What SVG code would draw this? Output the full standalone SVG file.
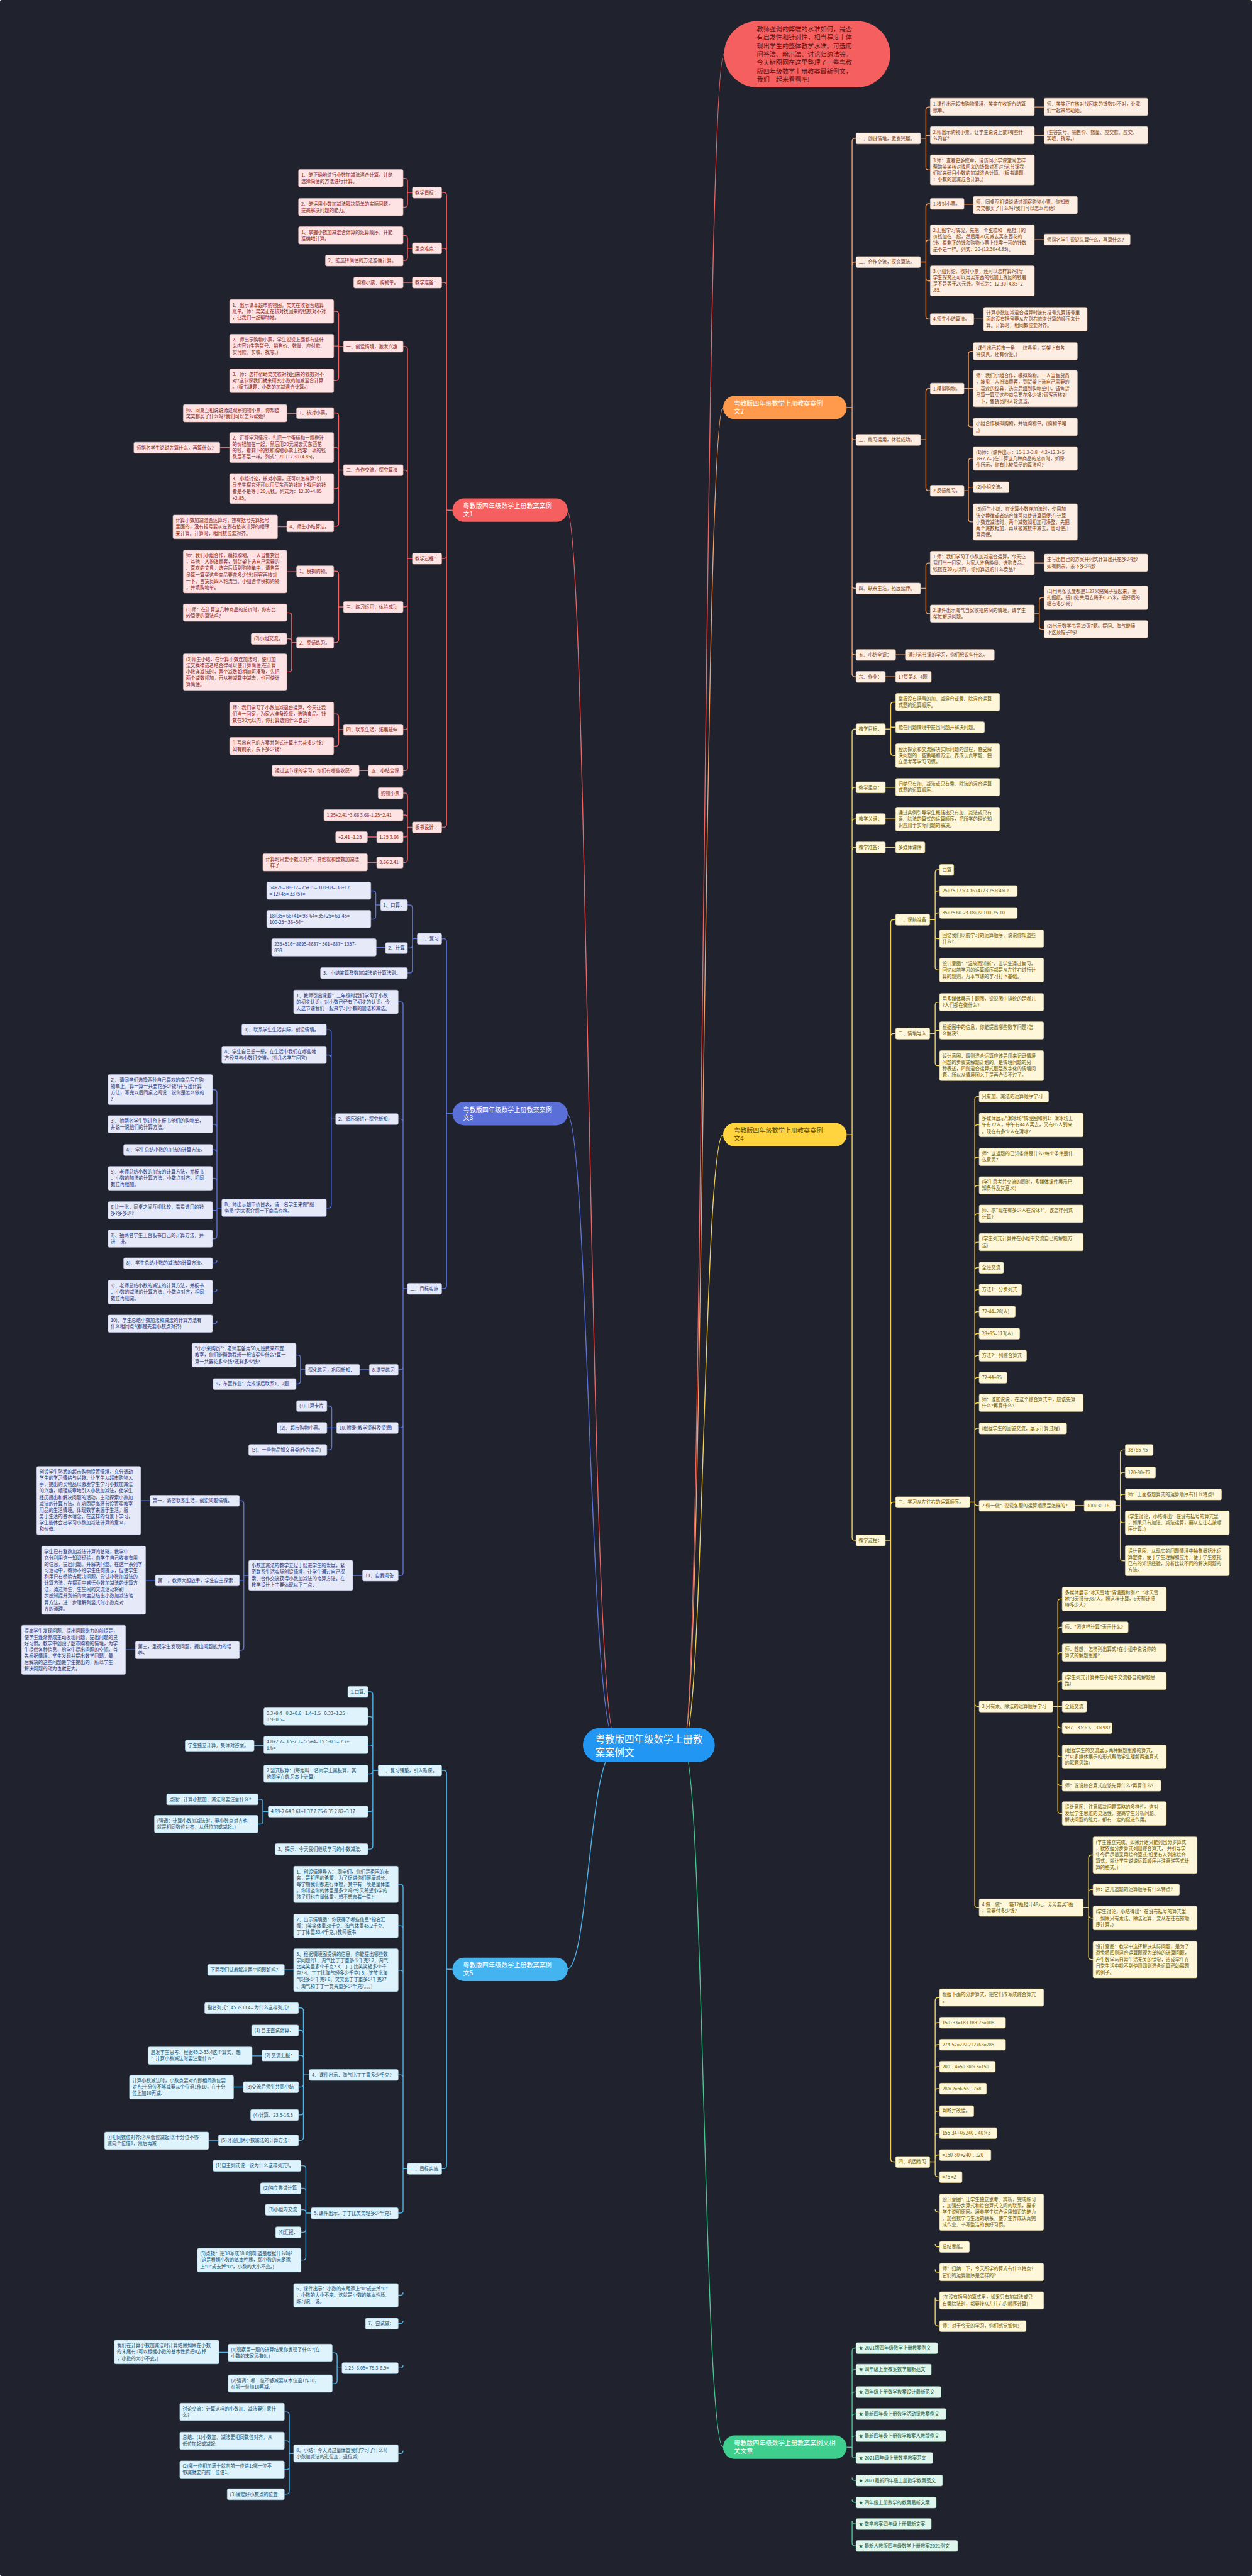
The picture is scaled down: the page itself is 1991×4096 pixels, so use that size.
<svg xmlns="http://www.w3.org/2000/svg" width="1991" height="4096" viewBox="0 0 1991 4096">
<style>
text{font-family:"Noto Sans CJK SC","Noto Sans",sans-serif;font-size:9.6px}
rect{rx:3px}
.o rect{fill:#fdeee3;stroke:#e9c8ae;stroke-width:.8}.o text{fill:#7a3c12}
.y rect{fill:#fff7da;stroke:#e6d99a;stroke-width:.8}.y text{fill:#6a5700}
.g rect{fill:#e0f6ed;stroke:#a9dcc6;stroke-width:.8}.g text{fill:#1b5a40}
.r rect{fill:#fde3e3;stroke:#e9b6b6;stroke-width:.8}.r text{fill:#8a2222}
.b rect{fill:#e6e9f8;stroke:#b9c0e4;stroke-width:.8}.b text{fill:#25357a}
.c rect{fill:#dff3fc;stroke:#a8d6ea;stroke-width:.8}.c text{fill:#16506e}
.lo{stroke:#f0a068}.ly{stroke:#f2d250}.lg{stroke:#44c98f}.lr{stroke:#ee6464}.lb{stroke:#5b74d8}.lc{stroke:#4cb6ea}
#links path{fill:none;stroke-width:1.8}
.bn text{font-size:13px}
</style>
<rect width="1991" height="4096" fill="#20232e"/>
<g transform="scale(0.777)">
<g id="links">
<path class="lr" stroke-width="2.6" d="M1260 3560 C1205 3560 1205 1044 1160 1044"/>
<path class="lb" stroke-width="2.6" d="M1260 3565 C1205 3565 1205 2279 1160 2279"/>
<path class="lc" stroke-width="2.6" d="M1260 3580 C1205 3580 1205 4030 1160 4030"/>
<path class="lr" stroke-width="2.6" d="M1400 3560 C1440 3560 1440 111 1482 111"/>
<path class="lo" stroke-width="2.6" d="M1400 3560 C1440 3560 1440 834 1480 834"/>
<path class="ly" stroke-width="2.6" d="M1400 3565 C1440 3565 1440 2322 1480 2322"/>
<path class="lg" stroke-width="2.6" d="M1400 3580 C1440 3580 1440 5008 1480 5008"/>
<!-- orange -->
<path class="lo" d="M1733 834 H1744 V289 Q1744 283 1750 283 H1752 M1744 834 V542 Q1744 536 1750 536 H1752 M1744 834 V894 Q1744 900 1750 900 H1752 M1744 834 V1198 Q1744 1204 1750 1204 H1752 M1744 834 V1334 Q1744 1340 1750 1340 H1752 M1744 834 V1379 Q1744 1385 1750 1385 H1752"/>
<path class="lo" d="M1884 283 H1895 V225 Q1895 219 1901 219 H1904 M1895 283 V277 H1904 M1895 283 V342 Q1895 348 1901 348 H1904 M2117 219 H2137 M2117 277 H2137"/>
<path class="lo" d="M1884 536 H1895 V423 Q1895 417 1901 417 H1904 M1895 536 V497 Q1895 491 1901 491 H1904 M1895 536 V569 Q1895 575 1901 575 H1904 M1895 536 V647 Q1895 653 1901 653 H1904 M1973 418 H1992 M2117 490.5 H2137 M1993 653 H2013"/>
<path class="lo" d="M1884 900 H1895 V801 Q1895 795 1901 795 H1904 M1895 900 V998 Q1895 1004 1901 1004 H1904 M1973 795 H1982 V725 Q1982 719 1988 719 H1992 M1982 795 H1992 M1982 795 V868 Q1982 874 1988 874 H1992 M1973 1004 H1982 V944 Q1982 938 1988 938 H1992 M1982 1004 V998 Q1982 997 1988 997 H1992 M1982 1004 V1062 Q1982 1068 1988 1068 H1992"/>
<path class="lo" d="M1884 1204 H1895 V1158 Q1895 1152 1901 1152 H1904 M1895 1204 V1250 Q1895 1256 1901 1256 H1904 M2117 1152 H2137 M2117 1256 H2127 V1229 Q2127 1223 2133 1223 H2137 M2127 1256 V1282 Q2127 1288 2133 1288 H2137 M1833 1340 H1853 M1812 1385 H1833"/>
<!-- yellow -->
<path class="ly" d="M1733 2322 H1744 V1498 Q1744 1492 1750 1492 H1752 M1744 2322 V1617 Q1744 1611 1750 1611 H1752 M1744 2322 V1682 Q1744 1676 1750 1676 H1752 M1744 2322 V1740 Q1744 1734 1750 1734 H1752 M1744 2322 V3146 Q1744 3152 1750 3152 H1752"/>
<path class="ly" d="M1812 1492 H1823 V1443 Q1823 1437 1829 1437 H1833 M1823 1492 V1488 H1833 M1823 1492 V1540 Q1823 1546 1829 1546 H1833 M1812 1611 H1833 M1812 1676 H1833 M1812 1734 H1833"/>
<path class="ly" d="M1812 3152 H1823 V1888 Q1823 1882 1829 1882 H1833 M1823 3152 V2121 Q1823 2115 1829 2115 H1833 M1823 3152 V3080 Q1823 3074 1829 3074 H1833 M1823 3152 V4418 Q1823 4424 1829 4424 H1833"/>
<path class="ly" d="M1903 1882 H1914 V1786 Q1914 1780 1920 1780 H1923 M1914 1882 V1829 Q1914 1823 1920 1823 H1923 M1914 1882 V1874 Q1914 1868 1920 1868 H1923 M1914 1882 V1915 Q1914 1921 1920 1921 H1923 M1914 1882 V1979 Q1914 1985 1920 1985 H1923"/>
<path class="ly" d="M1903 2115 H1914 V2057 Q1914 2051 1920 2051 H1923 M1914 2115 V2109 H1923 M1914 2115 V2175 Q1914 2181 1920 2181 H1923"/>
<path class="ly" d="M1985 3074 H1995 V2250 Q1995 2244 2001 2244 H2004 M1995 2308 Q1995 2302 2001 2302 H2004 M1995 2374 Q1995 2368 2001 2368 H2004 M1995 2432 Q1995 2426 2001 2426 H2004 M1995 2490 Q1995 2484 2001 2484 H2004 M1995 2548 Q1995 2542 2001 2542 H2004 M1995 2600 Q1995 2594 2001 2594 H2004 M1995 2645 Q1995 2639 2001 2639 H2004 M1995 2690 Q1995 2684 2001 2684 H2004 M1995 2735 Q1995 2729 2001 2729 H2004 M1995 2780 Q1995 2774 2001 2774 H2004 M1995 2825 Q1995 2819 2001 2819 H2004 M1995 2877 Q1995 2871 2001 2871 H2004 M1995 2929 Q1995 2923 2001 2923 H2004 M1995 3074 V3075 Q1995 3081 2001 3081 H2004 M1995 3074 V3486 Q1995 3492 2001 3492 H2004 M1995 3074 V3898 Q1995 3904 2001 3904 H2004"/>
<path class="ly" d="M2200 3081 H2219 M2283 3081 H2293 V2973 Q2293 2967 2299 2967 H2303 M2293 3019 Q2293 3013 2299 3013 H2303 M2293 3064 Q2293 3058 2299 3058 H2303 M2293 3081 V3110 Q2293 3116 2299 3116 H2303 M2293 3081 V3188 Q2293 3194 2299 3194 H2303"/>
<path class="ly" d="M2155 3492 H2165 V3278 Q2165 3272 2171 3272 H2174 M2165 3336 Q2165 3330 2171 3330 H2174 M2165 3388 Q2165 3382 2171 3382 H2174 M2165 3446 Q2165 3440 2171 3440 H2174 M2165 3492 H2174 M2165 3492 V3530 Q2165 3536 2171 3536 H2174 M2165 3492 V3589 Q2165 3595 2171 3595 H2174 M2165 3492 V3648 Q2165 3654 2171 3654 H2174 M2165 3492 V3705 Q2165 3711 2171 3711 H2174"/>
<path class="ly" d="M2217 3904 H2228 V3802 Q2228 3796 2234 3796 H2237 M2228 3873 Q2228 3867 2234 3867 H2237 M2228 3904 V3919 Q2228 3925 2234 3925 H2237 M2228 3904 V4004 Q2228 4010 2234 4010 H2237"/>
<path class="ly" d="M1903 4424 H1914 V4094 Q1914 4088 1920 4088 H1923 M1914 4145 Q1914 4139 1920 4139 H1923 M1914 4190 Q1914 4184 1920 4184 H1923 M1914 4235 Q1914 4229 1920 4229 H1923 M1914 4280 Q1914 4274 1920 4274 H1923 M1914 4326 Q1914 4320 1920 4320 H1923 M1914 4371 Q1914 4365 1920 4365 H1923 M1914 4416 Q1914 4410 1920 4410 H1923 M1914 4424 V4449 Q1914 4455 1920 4455 H1923 M1914 4521 Q1914 4527 1920 4527 H1923 M1914 4592 Q1914 4598 1920 4598 H1923 M1914 4644 Q1914 4650 1920 4650 H1923 M1914 4702 Q1914 4708 1920 4708 H1923 M1914 4702 V4754 Q1914 4760 1920 4760 H1923"/>
<!-- green -->
<path class="lg" d="M1733 5008 H1744 V4811 Q1744 4805 1750 4805 H1752 M1744 4855 Q1744 4849 1750 4849 H1752 M1744 4901 Q1744 4895 1750 4895 H1752 M1744 4946 Q1744 4940 1750 4940 H1752 M1744 4991 Q1744 4985 1750 4985 H1752 M1744 5008 V5024 Q1744 5030 1750 5030 H1752 M1744 5070 Q1744 5076 1750 5076 H1752 M1744 5115 Q1744 5121 1750 5121 H1752 M1744 5159 Q1744 5165 1750 5165 H1752 M1744 5159 V5204 Q1744 5210 1750 5210 H1752"/>
<!-- red -->
<path class="lr" d="M926 1044 H914 V400 Q914 394 908 394 H904 M914 514 Q914 508 908 508 H904 M914 584 Q914 578 908 578 H904 M914 1044 V1137 Q914 1143 908 1143 H904 M914 1044 V1687 Q914 1693 908 1693 H904"/>
<path class="lr" d="M844 394 H834 V371 Q834 365 828 365 H825 M834 394 V418 Q834 424 828 424 H825 M844 508 H834 V488 Q834 482 828 482 H825 M834 508 V527 Q834 533 828 533 H825 M844 578 H825"/>
<path class="lr" d="M844 1143 H834 V715 Q834 709 828 709 H825 M834 968 Q834 962 828 962 H825 M834 1143 V1236 Q834 1242 828 1242 H825 M834 1143 V1487 Q834 1493 828 1493 H825 M834 1143 V1571 Q834 1577 828 1577 H825"/>
<path class="lr" d="M703 709 H693 V643 Q693 637 687 637 H683 M693 709 V708 H683 M693 709 V773 Q693 779 687 779 H683"/>
<path class="lr" d="M703 962 H693 V851 Q693 845 687 845 H683 M693 962 V922 Q693 916 687 916 H683 M693 962 V994 Q693 1000 687 1000 H683 M693 962 V1071 Q693 1077 687 1077 H683 M607 846 H587 M470 916 H450 M587 1078 H568"/>
<path class="lr" d="M703 1242 H693 V1175 Q693 1169 687 1169 H683 M693 1242 V1309 Q693 1315 687 1315 H683 M607 1170 H587 M607 1315 H597 V1260 Q597 1254 591 1254 H587 M597 1315 V1313 Q597 1307 591 1307 H587 M597 1315 V1369 Q597 1375 591 1375 H587"/>
<path class="lr" d="M703 1493 H693 V1467 Q693 1461 687 1461 H683 M693 1493 V1521 Q693 1527 687 1527 H683 M754 1577 H735"/>
<path class="lr" d="M844 1693 H834 V1629 Q834 1623 828 1623 H825 M834 1674 Q834 1668 828 1668 H825 M834 1693 V1707 Q834 1713 828 1713 H825 M834 1693 V1759 Q834 1765 828 1765 H825 M771 1713 H752 M771 1765 H752"/>
<!-- blue -->
<path class="lb" d="M926 2279 H914 V1927 Q914 1921 908 1921 H904 M914 2279 V2631 Q914 2637 908 2637 H904"/>
<path class="lb" d="M854 1921 H844 V1858 Q844 1852 838 1852 H834 M844 1921 V1934 Q844 1940 838 1940 H834 M844 1921 V1985 Q844 1991 838 1991 H834 M779 1852 H769 V1829 Q769 1823 763 1823 H759 M769 1852 V1875 Q769 1881 763 1881 H759 M789 1939 H770"/>
<path class="lb" d="M834 2637 H825 V2056 Q825 2050 819 2050 H815 M825 2296 Q825 2290 819 2290 H815 M825 2637 V2797 Q825 2803 819 2803 H815 M825 2637 V2916 Q825 2922 819 2922 H815 M825 2637 V3218 Q825 3224 819 3224 H815"/>
<path class="lb" d="M687 2290 H678 V2113 Q678 2107 672 2107 H668 M678 2165 Q678 2159 672 2159 H668 M678 2290 V2466 Q678 2472 672 2472 H668"/>
<path class="lb" d="M454 2472 H444 V2236 Q444 2230 438 2230 H435 M444 2307 Q444 2301 438 2301 H435 M444 2359 Q444 2353 438 2353 H435 M444 2417 Q444 2411 438 2411 H435 M444 2472 V2477 H435 M444 2472 V2529 Q444 2535 438 2535 H435 M444 2579 Q444 2585 438 2585 H435 M444 2638 Q444 2644 438 2644 H435 M444 2703 Q444 2709 438 2709 H435"/>
<path class="lb" d="M756 2803 H736 M625 2803 H615 V2779 Q615 2773 609 2773 H606 M615 2803 V2826 Q615 2832 609 2832 H606 M689 2922 H679 V2883 Q679 2877 673 2877 H669 M679 2922 H669 M679 2922 V2961 Q679 2967 673 2967 H669"/>
<path class="lb" d="M742 3224 H722 M509 3224 H499 V3077 Q499 3071 493 3071 H490 M499 3224 V3234 H490 M499 3224 V3371 Q499 3377 493 3377 H490 M307 3071 H288 M318 3234 H298 M277 3376 H257"/>
<!-- light blue -->
<path class="lc" d="M926 4030 H914 V3629 Q914 3623 908 3623 H904 M914 4030 V4432 Q914 4438 908 4438 H904"/>
<path class="lc" d="M774 3623 H763 V3468 Q763 3462 757 3462 H753 M763 3519 Q763 3513 757 3513 H753 M763 3577 Q763 3571 757 3571 H753 M763 3623 V3624 Q763 3630 757 3630 H753 M763 3623 V3701 Q763 3707 757 3707 H753 M763 3623 V3778 Q763 3784 757 3784 H753 M540 3572 H520 M549 3707 H538 V3688 Q538 3682 532 3682 H528 M538 3707 V3727 Q538 3733 532 3733 H528"/>
<path class="lc" d="M834 4438 H825 V3862 Q825 3856 819 3856 H815 M825 3947 Q825 3941 819 3941 H815 M825 4038 Q825 4032 819 4032 H815 M825 4252 Q825 4246 819 4246 H815 M825 4438 V4523 Q825 4529 819 4529 H815 M825 4691 Q825 4697 819 4697 H815 M825 4749 Q825 4755 819 4755 H815 M825 4840 Q825 4846 819 4846 H815 M825 5015 Q825 5021 819 5021 H815"/>
<path class="lc" d="M601 4031 H582 M633 4246 H621 V4115 Q621 4109 615 4109 H611 M621 4161 Q621 4155 615 4155 H611 M621 4212 Q621 4206 615 4206 H611 M621 4246 V4265 Q621 4271 615 4271 H611 M621 4246 V4322 Q621 4328 615 4328 H611 M621 4246 V4374 Q621 4380 615 4380 H611 M536 4207 H516 M498 4271 H478 M447 4381 H427"/>
<path class="lc" d="M637 4529 H626 V4438 Q626 4432 620 4432 H616 M626 4484 Q626 4478 620 4478 H616 M626 4528 Q626 4522 620 4522 H616 M626 4529 V4562 Q626 4568 620 4568 H616 M626 4529 V4619 Q626 4625 620 4625 H616"/>
<path class="lc" d="M700 4846 H690 V4821 Q690 4815 684 4815 H680 M690 4846 V4872 Q690 4878 684 4878 H680 M467 4814 H448 M601 5021 H592 V4942 Q592 4936 586 4936 H582 M592 5001 Q592 4995 586 4995 H582 M592 5021 V5048 Q592 5054 586 5054 H582 M592 5021 V5098 Q592 5104 586 5104 H582"/>
</g>

<!-- center & branch nodes -->
<g id="center"><rect x="1193" y="3536" width="270" height="70" rx="35" style="rx:35px" fill="#2196f3"/><text x="1218" y="3566" fill="#fff" style="font-size:20px">粤教版四年级数学上册教<tspan x="1218" dy="27">案案例文</tspan></text></g>
<g id="intro"><rect x="1482" y="43" width="340" height="136" style="rx:68px" fill="#f65f5f"/><text fill="#5c1414" style="font-size:13px" x="1549" y="64">教师强调的弊端的水准如何，是否<tspan x="1549" dy="17.3">有启发性和针对性，相当程度上体</tspan><tspan x="1549" dy="17.3">现出学生的整体教学水准。可选用</tspan><tspan x="1549" dy="17.3">问答法、暗示法、讨论归纳法等。</tspan><tspan x="1549" dy="17.3">今天树图网在这里整理了一些粤教</tspan><tspan x="1549" dy="17.3">版四年级数学上册教案最新例文，</tspan><tspan x="1549" dy="17.3">我们一起来看看吧!</tspan></text></g>
<g class="bn">
<g id="br1"><rect x="926" y="1020" width="236" height="48" style="rx:24px" fill="#f65f5f"/><text x="948" y="1040" fill="#fff">粤教版四年级数学上册教案案例<tspan x="948" dy="17">文1</tspan></text></g>
<g id="br3"><rect x="926" y="2255" width="236" height="48" style="rx:24px" fill="#5b6fd9"/><text x="948" y="2275" fill="#fff">粤教版四年级数学上册教案案例<tspan x="948" dy="17">文3</tspan></text></g>
<g id="br5"><rect x="926" y="4006" width="236" height="48" style="rx:24px" fill="#43b4ef"/><text x="948" y="4026" fill="#fff">粤教版四年级数学上册教案案例<tspan x="948" dy="17">文5</tspan></text></g>
<g id="br2"><rect x="1480" y="810" width="253" height="48" style="rx:24px" fill="#ff9a4c"/><text x="1502" y="830" fill="#fff">粤教版四年级数学上册教案案例<tspan x="1502" dy="17">文2</tspan></text></g>
<g id="br4"><rect x="1480" y="2298" width="253" height="48" style="rx:24px" fill="#ffd43f"/><text x="1502" y="2318" fill="#5a4a00">粤教版四年级数学上册教案案例<tspan x="1502" dy="17">文4</tspan></text></g>
<g id="brg"><rect x="1480" y="4984" width="253" height="48" style="rx:24px" fill="#3ecf8e"/><text x="1502" y="5004" fill="#fff">粤教版四年级数学上册教案案例文相<tspan x="1502" dy="17">关文章</tspan></text></g>
</g>

<g class="o">
<g id="o1"><rect x="1752" y="272" width="132" height="22.5"/><text x="1757.5" y="286.6">一、创设情境，激发兴趣。</text></g>
<g id="o2"><rect x="1752" y="525" width="132" height="22.5"/><text x="1757.5" y="539.6">二、合作交流，探究算法。</text></g>
<g id="o3"><rect x="1752" y="889" width="132" height="22.5"/><text x="1757.5" y="903.6">三、练习运用，体验成功。</text></g>
<g id="o4"><rect x="1752" y="1193" width="132" height="22.5"/><text x="1757.5" y="1207.6">四、联系生活，拓展延伸。</text></g>
<g id="o5"><rect x="1752" y="1329" width="81" height="22.5"/><text x="1757.5" y="1343.6">五、小结全课：</text></g>
<g id="o6"><rect x="1752" y="1374" width="60" height="22.5"/><text x="1757.5" y="1388.6">六、作业：</text></g>
<g id="o1a"><rect x="1904" y="201" width="213" height="35.5"/><text x="1909.5" y="215.6">1.课件出示超市购物情境，笑笑在收银台结算<tspan x="1909.5" dy="13">账单。</tspan></text></g>
<g id="o1a1"><rect x="2137" y="201" width="212" height="35.5"/><text x="2142.5" y="215.6">师：笑笑正在核对找回来的钱数对不对，让我<tspan x="2142.5" dy="13">们一起来帮助她。</tspan></text></g>
<g id="o1b"><rect x="1904" y="259" width="213" height="35.5"/><text x="1909.5" y="273.6">2.师出示购物小票，让学生说说上蒙?有些什<tspan x="1909.5" dy="13">么内容?</tspan></text></g>
<g id="o1b1"><rect x="2137" y="259" width="212" height="35.5"/><text x="2142.5" y="273.6">(生答货号、销售价、数量、应交款、应交、<tspan x="2142.5" dy="13">实收、找零。)</tspan></text></g>
<g id="o1c"><rect x="1904" y="317" width="213" height="61.5"/><text x="1909.5" y="331.6">3.师：查看更多纹章，请访问小学课堂网怎样<tspan x="1909.5" dy="13">帮助笑笑核对找回来的钱数对不对?这节课我</tspan><tspan x="1909.5" dy="13">们就来研目小数的加减混合计算。(板书课题</tspan><tspan x="1909.5" dy="13">：小数的加减混合计算。)</tspan></text></g>
<g id="o2a"><rect x="1904" y="406" width="69" height="22.5"/><text x="1909.5" y="420.6">1.核对小票。</text></g>
<g id="o2a1"><rect x="1992" y="402" width="213" height="35.5"/><text x="1997.5" y="416.6">师：同桌互相说说通过观察购物小票，你知道<tspan x="1997.5" dy="13">笑笑都买了什么吗?我们可以怎么帮她?</tspan></text></g>
<g id="o2b"><rect x="1904" y="460" width="213" height="61.5"/><text x="1909.5" y="474.6">2.汇报学习情况，先把一个蛋糕和一瓶橙汁的<tspan x="1909.5" dy="13">价钱加在一起，然后用20元减去买东西花的</tspan><tspan x="1909.5" dy="13">钱，看剩下的钱和购物小票上找零一项的钱数</tspan><tspan x="1909.5" dy="13">是不是一样。列式：20-(12.30+4.85)。</tspan></text></g>
<g id="o2b1"><rect x="2137" y="479" width="176" height="22.5"/><text x="2142.5" y="493.6">师指名学生说说先算什么，再算什么?</text></g>
<g id="o2c"><rect x="1904" y="544" width="213" height="61.5"/><text x="1909.5" y="558.6">3.小组讨论，核对小票，还可以怎样算?引导<tspan x="1909.5" dy="13">学生探究还可以用买东西的钱加上找回的钱看</tspan><tspan x="1909.5" dy="13">是不是等于20元钱。列式为：12.30+4.85+2</tspan><tspan x="1909.5" dy="13">.85。</tspan></text></g>
<g id="o2d"><rect x="1904" y="642" width="89" height="22.5"/><text x="1909.5" y="656.6">4.师生小结算法。</text></g>
<g id="o2d1"><rect x="2013" y="629" width="212" height="48.5"/><text x="2018.5" y="643.6">计算小数加减混合运算时按有括号先算括号里<tspan x="2018.5" dy="13">面的没有括号要从左到右依次计算的顺序来计</tspan><tspan x="2018.5" dy="13">算。计算时，相同数位要对齐。</tspan></text></g>
<g id="o3a"><rect x="1904" y="784" width="69" height="22.5"/><text x="1909.5" y="798.6">1.模拟购物。</text></g>
<g id="o3a1"><rect x="1992" y="701" width="213" height="35.5"/><text x="1997.5" y="715.6">(课件出示超市一角——纹具组，货架上有各<tspan x="1997.5" dy="13">种纹具，还有价签。)</tspan></text></g>
<g id="o3a2"><rect x="1992" y="758" width="213" height="74.5"/><text x="1997.5" y="772.6">师：我们小组合作，模拟购物。一人当售货员<tspan x="1997.5" dy="13">，坡见三人扮演顾客，到货架上选自己需要的</tspan><tspan x="1997.5" dy="13">、喜欢的纹具，选完后填到购物单中，请售货</tspan><tspan x="1997.5" dy="13">员算一算买这些商品要花多少钱?顾客再核对</tspan><tspan x="1997.5" dy="13">一下，售货员四人轮流当。</tspan></text></g>
<g id="o3a3"><rect x="1992" y="856" width="213" height="35.5"/><text x="1997.5" y="870.6">小组合作模拟购物，并填购物单。(购物单略<tspan x="1997.5" dy="13">。)</tspan></text></g>
<g id="o3b"><rect x="1904" y="993" width="69" height="22.5"/><text x="1909.5" y="1007.6">2.反馈练习。</text></g>
<g id="o3b1"><rect x="1992" y="914" width="213" height="48.5"/><text x="1997.5" y="928.6">(1)师：(课件出示：15-1.2-3.8= 4.2+12.3+5<tspan x="1997.5" dy="13">.8+2.7= )在计算这几种商品的总价时，如课</tspan><tspan x="1997.5" dy="13">件所示，你有比较简便的算法吗?</tspan></text></g>
<g id="o3b2"><rect x="1992" y="986" width="73" height="22.5"/><text x="1997.5" y="1000.6">(2)小组交流。</text></g>
<g id="o3b3"><rect x="1992" y="1031" width="213" height="74.5"/><text x="1997.5" y="1045.6">(3)师生小结：在计算小数连加法时，使用加<tspan x="1997.5" dy="13">法交换律或者结合律可以使计算简便;在计算</tspan><tspan x="1997.5" dy="13">小数连减法时，两个减数如相加可凑整，先把</tspan><tspan x="1997.5" dy="13">两个减数相加，再从被减数中减去，也可使计</tspan><tspan x="1997.5" dy="13">算简便。</tspan></text></g>
<g id="o4a"><rect x="1904" y="1128" width="213" height="48.5"/><text x="1909.5" y="1142.6">1.师：我们学习了小数加减混合运算，今天让<tspan x="1909.5" dy="13">我们当一回家，为家人准备晚餐，选购食品。</tspan><tspan x="1909.5" dy="13">钱数在30元以内，你打算选购什么食品?</tspan></text></g>
<g id="o4a1"><rect x="2137" y="1134" width="212" height="35.5"/><text x="2142.5" y="1148.6">生写出自己的方案并列式计算出共花多少钱?<tspan x="2142.5" dy="13">如有剩余，余下多少钱?</tspan></text></g>
<g id="o4b"><rect x="1904" y="1238" width="213" height="35.5"/><text x="1909.5" y="1252.6">2.课件出示淘气当家收拾房间的情境，请学生<tspan x="1909.5" dy="13">帮忙解决问题。</tspan></text></g>
<g id="o4b1"><rect x="2137" y="1199" width="212" height="48.5"/><text x="2142.5" y="1213.6">(1)用两条长度都是1.27米赌绳子接起来，捆<tspan x="2142.5" dy="13">扎报纸。接口处共用去绳子0.25米，接好后的</tspan><tspan x="2142.5" dy="13">绳有多少米?</tspan></text></g>
<g id="o4b2"><rect x="2137" y="1270" width="212" height="35.5"/><text x="2142.5" y="1284.6">(2)出示数学书第19页7题。提问：淘气能摘<tspan x="2142.5" dy="13">下这顶帽子吗?</tspan></text></g>
<g id="o5a"><rect x="1853" y="1329" width="182" height="22.5"/><text x="1858.5" y="1343.6">通过这节课的学习，你们想说些什么。</text></g>
<g id="o6a"><rect x="1833" y="1374" width="73" height="22.5"/><text x="1838.5" y="1388.6">17页第3、4题</text></g>
</g>

<g class="y">
<g id="y1"><rect x="1752" y="1481" width="60" height="22.5"/><text x="1757.5" y="1495.6">教学目标：</text></g>
<g id="y2"><rect x="1752" y="1600" width="60" height="22.5"/><text x="1757.5" y="1614.6">教学重点：</text></g>
<g id="y3"><rect x="1752" y="1665" width="60" height="22.5"/><text x="1757.5" y="1679.6">教学关键：</text></g>
<g id="y4"><rect x="1752" y="1723" width="60" height="22.5"/><text x="1757.5" y="1737.6">教学准备：</text></g>
<g id="y5"><rect x="1752" y="3141" width="60" height="22.5"/><text x="1757.5" y="3155.6">教学过程：</text></g>
<g id="y1a"><rect x="1833" y="1419" width="213" height="35.5"/><text x="1838.5" y="1433.6">掌握没有括号的加、减混合或乘、除混合运算<tspan x="1838.5" dy="13">式题的运算顺序。</tspan></text></g>
<g id="y1b"><rect x="1833" y="1477" width="182" height="22.5"/><text x="1838.5" y="1491.6">能在问题情境中提出问题并解决问题。</text></g>
<g id="y1c"><rect x="1833" y="1522" width="213" height="48.5"/><text x="1838.5" y="1536.6">经历探索和交流解决实际问题的过程，感受解<tspan x="1838.5" dy="13">决问题的一些策略和方法，养成认真审题、独</tspan><tspan x="1838.5" dy="13">立思考等学习习惯。</tspan></text></g>
<g id="y2a"><rect x="1833" y="1593" width="213" height="35.5"/><text x="1838.5" y="1607.6">归纳只有加、减法或只有乘、除法的混合运算<tspan x="1838.5" dy="13">式题的运算顺序。</tspan></text></g>
<g id="y3a"><rect x="1833" y="1652" width="213" height="48.5"/><text x="1838.5" y="1666.6">通过实例引导学生概括出只有加、减法或只有<tspan x="1838.5" dy="13">乘、除法的算式的运算顺序，把所学的理论知</tspan><tspan x="1838.5" dy="13">识应用于实际问题的解决。</tspan></text></g>
<g id="y4a"><rect x="1833" y="1723" width="60" height="22.5"/><text x="1838.5" y="1737.6">多媒体课件</text></g>
<g id="y5a"><rect x="1833" y="1871" width="70" height="22.5"/><text x="1838.5" y="1885.6">一、课前准备</text></g>
<g id="y5b"><rect x="1833" y="2104" width="70" height="22.5"/><text x="1838.5" y="2118.6">二、情境导入</text></g>
<g id="y5c"><rect x="1833" y="3063" width="152" height="22.5"/><text x="1838.5" y="3077.6">三、学习从左往右的运算顺序。</text></g>
<g id="y5d"><rect x="1833" y="4413" width="70" height="22.5"/><text x="1838.5" y="4427.6">四、巩固练习</text></g>
<g id="y5a1"><rect x="1923" y="1769" width="29" height="22.5"/><text x="1928.5" y="1783.6">口算</text></g>
<g id="y5a2"><rect x="1923" y="1812" width="159" height="22.5"/><text x="1928.5" y="1826.6">25+75 12×4 16+4+23 25×4×2</text></g>
<g id="y5a3"><rect x="1923" y="1857" width="159" height="22.5"/><text x="1928.5" y="1871.6">35+25 60-24 18+22 100-25-10</text></g>
<g id="y5a4"><rect x="1923" y="1903" width="213" height="35.5"/><text x="1928.5" y="1917.6">回忆我们以前学习的运算顺序，说说你知道些<tspan x="1928.5" dy="13">什么?</tspan></text></g>
<g id="y5a5"><rect x="1923" y="1961" width="213" height="48.5"/><text x="1928.5" y="1975.6">设计意图："温故而知新"，让学生通过复习，<tspan x="1928.5" dy="13">回忆以前学习的运算顺序都是从左往右进行计</tspan><tspan x="1928.5" dy="13">算的规则，为本节课的学习打下基础。</tspan></text></g>
<g id="y5b1"><rect x="1923" y="2033" width="213" height="35.5"/><text x="1928.5" y="2047.6">用多媒体展示主题图，说说图中描绘的是哪儿<tspan x="1928.5" dy="13">?人们都在做什么?</tspan></text></g>
<g id="y5b2"><rect x="1923" y="2091" width="213" height="35.5"/><text x="1928.5" y="2105.6">根据图中的信息，你能提出哪些数学问题?怎<tspan x="1928.5" dy="13">么解决?</tspan></text></g>
<g id="y5b3"><rect x="1923" y="2150" width="213" height="61.5"/><text x="1928.5" y="2164.6">设计意图：四则混合运算应该是用来记录情境<tspan x="1928.5" dy="13">问题的步骤或解题计划的，是情境问题的另一</tspan><tspan x="1928.5" dy="13">种表述，四则混合运算式题是数字化的情境问</tspan><tspan x="1928.5" dy="13">题，所以从情境图入手是再合适不过了。</tspan></text></g>
<g id="y5c1"><rect x="2004" y="2233" width="142" height="22.5"/><text x="2009.5" y="2247.6">只有加、减法的运算顺序学习</text></g>
<g id="y5c2"><rect x="2004" y="2278" width="213" height="48.5"/><text x="2009.5" y="2292.6">多媒体展示"滑冰场"情境图和例1：滑冰场上<tspan x="2009.5" dy="13">午有72人，中午有44人离去，又有85人到来</tspan><tspan x="2009.5" dy="13">。现在有多少人在滑冰?</tspan></text></g>
<g id="y5c3"><rect x="2004" y="2350" width="213" height="35.5"/><text x="2009.5" y="2364.6">师：这道题的已知条件是什么?每个条件是什<tspan x="2009.5" dy="13">么意思?</tspan></text></g>
<g id="y5c4"><rect x="2004" y="2408" width="213" height="35.5"/><text x="2009.5" y="2422.6">(学生思考并交流的同时，多媒体课件展示已<tspan x="2009.5" dy="13">知条件及其意义)</tspan></text></g>
<g id="y5c5"><rect x="2004" y="2466" width="213" height="35.5"/><text x="2009.5" y="2480.6">师：求"现在有多少人在滑冰?"，该怎样列式<tspan x="2009.5" dy="13">计算?</tspan></text></g>
<g id="y5c6"><rect x="2004" y="2524" width="213" height="35.5"/><text x="2009.5" y="2538.6">(学生列式计算并在小组中交流自己的解题方<tspan x="2009.5" dy="13">法)</tspan></text></g>
<g id="y5c7"><rect x="2004" y="2583" width="50" height="22.5"/><text x="2009.5" y="2597.6">全班交流</text></g>
<g id="y5c8"><rect x="2004" y="2628" width="87" height="22.5"/><text x="2009.5" y="2642.6">方法1：分步列式</text></g>
<g id="y5c9"><rect x="2004" y="2673" width="74" height="22.5"/><text x="2009.5" y="2687.6">72-44=28(人)</text></g>
<g id="y5c10"><rect x="2004" y="2718" width="83" height="22.5"/><text x="2009.5" y="2732.6">28+85=113(人)</text></g>
<g id="y5c11"><rect x="2004" y="2763" width="97" height="22.5"/><text x="2009.5" y="2777.6">方法2：列综合算式</text></g>
<g id="y5c12"><rect x="2004" y="2808" width="57" height="22.5"/><text x="2009.5" y="2822.6">72-44+85</text></g>
<g id="y5c13"><rect x="2004" y="2853" width="213" height="35.5"/><text x="2009.5" y="2867.6">师：谁能说说，在这个综合算式中，应该先算<tspan x="2009.5" dy="13">什么?再算什么?</tspan></text></g>
<g id="y5c14"><rect x="2004" y="2912" width="179" height="22.5"/><text x="2009.5" y="2926.6">(根据学生的回答交流，展示计算过程)</text></g>
<g id="y5c15"><rect x="2004" y="3070" width="196" height="22.5"/><text x="2009.5" y="3084.6">2.做一做：说说各题的运算顺序是怎样的?</text></g>
<g id="y5c15a"><rect x="2219" y="3070" width="64" height="22.5"/><text x="2224.5" y="3084.6">100+30-16</text></g>
<g id="y5c15b"><rect x="2303" y="2956" width="57" height="22.5"/><text x="2308.5" y="2970.6">38+65-45</text></g>
<g id="y5c15c"><rect x="2303" y="3002" width="62" height="22.5"/><text x="2308.5" y="3016.6">120-80+72</text></g>
<g id="y5c15d"><rect x="2303" y="3047" width="197" height="22.5"/><text x="2308.5" y="3061.6">师：上面各题算式的运算顺序有什么特点?</text></g>
<g id="y5c15e"><rect x="2303" y="3092" width="213" height="48.5"/><text x="2308.5" y="3106.6">(学生讨论，小结得出：在没有括号的算式里<tspan x="2308.5" dy="13">，如果只有加法、减法运算，要从左往右按顺</tspan><tspan x="2308.5" dy="13">序计算。)</tspan></text></g>
<g id="y5c15f"><rect x="2303" y="3163" width="213" height="61.5"/><text x="2308.5" y="3177.6">设计意图：从现实的问题情境中抽象概括出运<tspan x="2308.5" dy="13">算定律，便于学生理解和应用，便于学生依托</tspan><tspan x="2308.5" dy="13">已有的知识经验，分析比较不同的解决问题的</tspan><tspan x="2308.5" dy="13">方法。</tspan></text></g>
<g id="y5c16"><rect x="2004" y="3481" width="151" height="22.5"/><text x="2009.5" y="3495.6">3.只有乘、除法的运算顺序学习</text></g>
<g id="y5c16a"><rect x="2174" y="3248" width="213" height="48.5"/><text x="2179.5" y="3262.6">多媒体展示"冰天雪地"情境图和例2："冰天雪<tspan x="2179.5" dy="13">地"3天接待987人。照这样计算，6天预计接</tspan><tspan x="2179.5" dy="13">待多少人?</tspan></text></g>
<g id="y5c16b"><rect x="2174" y="3319" width="135" height="22.5"/><text x="2179.5" y="3333.6">师："照这样计算"表示什么?</text></g>
<g id="y5c16c"><rect x="2174" y="3364" width="213" height="35.5"/><text x="2179.5" y="3378.6">师：想想，怎样列出算式?在小组中说说你的<tspan x="2179.5" dy="13">算式的解题思路?</tspan></text></g>
<g id="y5c16d"><rect x="2174" y="3422" width="213" height="35.5"/><text x="2179.5" y="3436.6">(学生列式计算并在小组中交流各自的解题思<tspan x="2179.5" dy="13">路)</tspan></text></g>
<g id="y5c16e"><rect x="2174" y="3481" width="50" height="22.5"/><text x="2179.5" y="3495.6">全班交流</text></g>
<g id="y5c16f"><rect x="2174" y="3525" width="102" height="22.5"/><text x="2179.5" y="3539.6">987÷3×6 6÷3×987</text></g>
<g id="y5c16g"><rect x="2174" y="3571" width="213" height="48.5"/><text x="2179.5" y="3585.6">(根据学生的交流展示两种解题思路的算式，<tspan x="2179.5" dy="13">并以多媒体展示的形式帮助学生理解两道算式</tspan><tspan x="2179.5" dy="13">的解题思路)</tspan></text></g>
<g id="y5c16h"><rect x="2174" y="3643" width="202" height="22.5"/><text x="2179.5" y="3657.6">师：说说综合算式应该先算什么?再算什么?</text></g>
<g id="y5c16i"><rect x="2174" y="3687" width="213" height="48.5"/><text x="2179.5" y="3701.6">设计意图：注意解决问题策略的多样性。这对<tspan x="2179.5" dy="13">发展学生思维的灵活性，提高学生分析问题、</tspan><tspan x="2179.5" dy="13">解决问题的能力，都有一定的促进作用。</tspan></text></g>
<g id="y5c17"><rect x="2004" y="3886" width="213" height="35.5"/><text x="2009.5" y="3900.6">4.做一做：一箱12瓶橙汁48元，芳芳要买3瓶<tspan x="2009.5" dy="13">，需要付多少钱?</tspan></text></g>
<g id="y5c17a"><rect x="2237" y="3759" width="213" height="74.5"/><text x="2242.5" y="3773.6">(学生独立完成。如果开始只能列出分步算式<tspan x="2242.5" dy="13">，就依据分步算式列出综合算式， 并引导学</tspan><tspan x="2242.5" dy="13">生今后尽量采用综合算式;如果有人列出综合</tspan><tspan x="2242.5" dy="13">算式，就让学生说说运算顺序并注意递等式计</tspan><tspan x="2242.5" dy="13">算的格式。)</tspan></text></g>
<g id="y5c17b"><rect x="2237" y="3856" width="177" height="22.5"/><text x="2242.5" y="3870.6">师：这几道题的运算顺序有什么特点?</text></g>
<g id="y5c17c"><rect x="2237" y="3901" width="213" height="48.5"/><text x="2242.5" y="3915.6">(学生讨论，小结得出：在没有括号的算式里<tspan x="2242.5" dy="13">，如果只有乘法、除法运算，要从左往右按顺</tspan><tspan x="2242.5" dy="13">序计算。)</tspan></text></g>
<g id="y5c17d"><rect x="2237" y="3973" width="213" height="74.5"/><text x="2242.5" y="3987.6">设计意图：教学中选择解决实际问题，是为了<tspan x="2242.5" dy="13">避免将四则混合运算题视为单纯的计算问题，</tspan><tspan x="2242.5" dy="13">产生数学与日常生活无关的错觉，造成学生在</tspan><tspan x="2242.5" dy="13">日常生活中找不到使用四则混合运算帮助解题</tspan><tspan x="2242.5" dy="13">的例子。</tspan></text></g>
<g id="y5d1"><rect x="1923" y="4070" width="213" height="35.5"/><text x="1928.5" y="4084.6">根据下面的分步算式，把它们改写成综合算式<tspan x="1928.5" dy="13">。</tspan></text></g>
<g id="y5d2"><rect x="1923" y="4128" width="135" height="22.5"/><text x="1928.5" y="4142.6">150+33=183 183-75=108</text></g>
<g id="y5d3"><rect x="1923" y="4173" width="135" height="22.5"/><text x="1928.5" y="4187.6">274-52=222 222+63=285</text></g>
<g id="y5d4"><rect x="1923" y="4218" width="114" height="22.5"/><text x="1928.5" y="4232.6">200÷4=50 50×3=150</text></g>
<g id="y5d5"><rect x="1923" y="4263" width="96" height="22.5"/><text x="1928.5" y="4277.6">28×2=56 56÷7=8</text></g>
<g id="y5d6"><rect x="1923" y="4309" width="70" height="22.5"/><text x="1928.5" y="4323.6">判断并改错。</text></g>
<g id="y5d7"><rect x="1923" y="4354" width="117" height="22.5"/><text x="1928.5" y="4368.6">155-34+46 240÷40×3</text></g>
<g id="y5d8"><rect x="1923" y="4399" width="105" height="22.5"/><text x="1928.5" y="4413.6">=150-80 =240÷120</text></g>
<g id="y5d9"><rect x="1923" y="4444" width="46" height="22.5"/><text x="1928.5" y="4458.6">=75 =2</text></g>
<g id="y5d10"><rect x="1923" y="4490" width="213" height="74.5"/><text x="1928.5" y="4504.6">设计意图：让学生独立思考、辨析，完成练习<tspan x="1928.5" dy="13">，加强分步算式和综合算式之间的联系，要求</tspan><tspan x="1928.5" dy="13">学生说明原因。培养学生综合运用知识的能力</tspan><tspan x="1928.5" dy="13">，加强数学与生活的联系，使学生养成认真完</tspan><tspan x="1928.5" dy="13">成作业、书写整洁的良好习惯。</tspan></text></g>
<g id="y5d11"><rect x="1923" y="4587" width="61" height="22.5"/><text x="1928.5" y="4601.6">总结思维。</text></g>
<g id="y5d12"><rect x="1923" y="4632" width="213" height="35.5"/><text x="1928.5" y="4646.6">师：归纳一下，今天所学的算式有什么特点?<tspan x="1928.5" dy="13">它们的运算顺序是怎样的?</tspan></text></g>
<g id="y5d13"><rect x="1923" y="4690" width="213" height="35.5"/><text x="1928.5" y="4704.6">(在没有括号的算式里，如果只有加减法或只<tspan x="1928.5" dy="13">有乘除法时，都要按从左往右的顺序计算)</tspan></text></g>
<g id="y5d14"><rect x="1923" y="4749" width="177" height="22.5"/><text x="1928.5" y="4763.6">师：对于今天的学习，你们感觉如何?</text></g>
</g>

<g class="g">
<g id="g1"><rect x="1752" y="4794" width="167" height="22.5"/><text x="1757.5" y="4808.6">★ 2021版四年级数学上册教案例文</text></g>
<g id="g2"><rect x="1752" y="4838" width="154" height="22.5"/><text x="1757.5" y="4852.6">★ 四年级上册教案数学最新范文</text></g>
<g id="g3"><rect x="1752" y="4884" width="174" height="22.5"/><text x="1757.5" y="4898.6">★ 四年级上册数学教案设计最新范文</text></g>
<g id="g4"><rect x="1752" y="4929" width="184" height="22.5"/><text x="1757.5" y="4943.6">★ 最新四年级上册数学活动课教案例文</text></g>
<g id="g5"><rect x="1752" y="4974" width="184" height="22.5"/><text x="1757.5" y="4988.6">★ 最新四年级上册数学教案人教版例文</text></g>
<g id="g6"><rect x="1752" y="5019" width="157" height="22.5"/><text x="1757.5" y="5033.6">★ 2021四年级上册数学教案范文</text></g>
<g id="g7"><rect x="1752" y="5065" width="177" height="22.5"/><text x="1757.5" y="5079.6">★ 2021最新四年级上册数学教案范文</text></g>
<g id="g8"><rect x="1752" y="5110" width="164" height="22.5"/><text x="1757.5" y="5124.6">★ 四年级上册数学的教案最新文案</text></g>
<g id="g9"><rect x="1752" y="5154" width="154" height="22.5"/><text x="1757.5" y="5168.6">★ 数学教案四年级上册最新文案</text></g>
<g id="g10"><rect x="1752" y="5199" width="208" height="22.5"/><text x="1757.5" y="5213.6">★ 最新人教版四年级数学上册教案2021例文</text></g>
</g>

<g class="r">
<g id="r1"><rect x="844" y="383" width="60" height="22.5"/><text x="849.5" y="397.6">教学目标：</text></g>
<g id="r2"><rect x="844" y="497" width="60" height="22.5"/><text x="849.5" y="511.6">重点难点：</text></g>
<g id="r3"><rect x="844" y="567" width="60" height="22.5"/><text x="849.5" y="581.6">教学准备：</text></g>
<g id="r4"><rect x="844" y="1132" width="60" height="22.5"/><text x="849.5" y="1146.6">教学过程：</text></g>
<g id="r5"><rect x="844" y="1682" width="60" height="22.5"/><text x="849.5" y="1696.6">板书设计：</text></g>
<g id="r1a"><rect x="611" y="347" width="214" height="35.5"/><text x="616.5" y="361.6">1、能正确地进行小数加减法混合计算，并能<tspan x="616.5" dy="13">选择简便的方法进行计算。</tspan></text></g>
<g id="r1b"><rect x="611" y="406" width="214" height="35.5"/><text x="616.5" y="420.6">2、能运用小数加减法解决简单的实际问题，<tspan x="616.5" dy="13">提高解决问题的能力。</tspan></text></g>
<g id="r2a"><rect x="611" y="464" width="214" height="35.5"/><text x="616.5" y="478.6">1、掌握小数加减混合计算的运算顺序，并能<tspan x="616.5" dy="13">准确地计算。</tspan></text></g>
<g id="r2b"><rect x="666" y="522" width="159" height="22.5"/><text x="671.5" y="536.6">2、能选择简便的方法准确计算。</text></g>
<g id="r3a"><rect x="724" y="567" width="101" height="22.5"/><text x="729.5" y="581.6">购物小票、购物单。</text></g>
<g id="r4a"><rect x="703" y="698" width="122" height="22.5"/><text x="708.5" y="712.6">一、创设情境，激发兴趣</text></g>
<g id="r4b"><rect x="703" y="951" width="122" height="22.5"/><text x="708.5" y="965.6">二、合作交流，探究算法</text></g>
<g id="r4c"><rect x="703" y="1231" width="122" height="22.5"/><text x="708.5" y="1245.6">三、练习运用，体验成功</text></g>
<g id="r4d"><rect x="703" y="1482" width="122" height="22.5"/><text x="708.5" y="1496.6">四、联系生活，拓展延伸</text></g>
<g id="r4e"><rect x="754" y="1566" width="71" height="22.5"/><text x="759.5" y="1580.6">五、小结全课</text></g>
<g id="r4a1"><rect x="470" y="613" width="213" height="48.5"/><text x="475.5" y="627.6">1、出示课本超市购物图，笑笑在收银台结算<tspan x="475.5" dy="13">账单。师：笑笑正在核对找回来的钱数对不对</tspan><tspan x="475.5" dy="13">，让我们一起帮助她。</tspan></text></g>
<g id="r4a2"><rect x="470" y="684" width="213" height="48.5"/><text x="475.5" y="698.6">2、师出示购物小票，学生说说上面都有些什<tspan x="475.5" dy="13">么内容?(生答货号、销售价、数量、应付款、</tspan><tspan x="475.5" dy="13">实付款、实收、找零。)</tspan></text></g>
<g id="r4a3"><rect x="470" y="755" width="213" height="48.5"/><text x="475.5" y="769.6">3、师：怎样帮助笑笑核对找回来的钱数对不<tspan x="475.5" dy="13">对?这节课我们就来研究小数的加减混合计算</tspan><tspan x="475.5" dy="13">。(板书课题：小数的加减混合计算。)</tspan></text></g>
<g id="r4b1"><rect x="607" y="834" width="76" height="22.5"/><text x="612.5" y="848.6">1、核对小票。</text></g>
<g id="r4b1a"><rect x="375" y="828" width="212" height="35.5"/><text x="380.5" y="842.6">师：同桌互相说说通过观察购物小票，你知道<tspan x="380.5" dy="13">笑笑都买了什么吗?我们可以怎么帮她?</tspan></text></g>
<g id="r4b2"><rect x="470" y="885" width="213" height="61.5"/><text x="475.5" y="899.6">2、汇报学习情况，先把一个蛋糕和一瓶橙汁<tspan x="475.5" dy="13">的价钱加在一起，然后用20元减去买东西花</tspan><tspan x="475.5" dy="13">的钱，看剩下的钱和购物小票上找零一项的钱</tspan><tspan x="475.5" dy="13">数是不是一样。列式：20-(12.30+4.85)。</tspan></text></g>
<g id="r4b2a"><rect x="274" y="905" width="176" height="22.5"/><text x="279.5" y="919.6">师指名学生说说先算什么，再算什么?</text></g>
<g id="r4b3"><rect x="470" y="969" width="213" height="61.5"/><text x="475.5" y="983.6">3、小组讨论，核对小票，还可以怎样算?引<tspan x="475.5" dy="13">导学生探究还可以用买东西的钱加上找回的钱</tspan><tspan x="475.5" dy="13">看是不是等于20元钱。列式为：12.30+4.85</tspan><tspan x="475.5" dy="13">+2.85。</tspan></text></g>
<g id="r4b4"><rect x="587" y="1066" width="96" height="22.5"/><text x="592.5" y="1080.6">4、师生小结算法。</text></g>
<g id="r4b4a"><rect x="354" y="1054" width="214" height="48.5"/><text x="359.5" y="1068.6">计算小数加减混合运算时，按有括号先算括号<tspan x="359.5" dy="13">里面的，没有括号要从左到右依次计算的顺序</tspan><tspan x="359.5" dy="13">来计算。计算时，相同数位要对齐。</tspan></text></g>
<g id="r4c1"><rect x="607" y="1158" width="76" height="22.5"/><text x="612.5" y="1172.6">1、模拟购物。</text></g>
<g id="r4c1a"><rect x="375" y="1126" width="212" height="87.5"/><text x="380.5" y="1140.6">师：我们小组合作，模拟购物。一人当售货员<tspan x="380.5" dy="13">，其他三人扮演顾客，到货架上选自己需要的</tspan><tspan x="380.5" dy="13">、喜欢的文具，选完后填到购物单中，请售货</tspan><tspan x="380.5" dy="13">员算一算买这些商品要花多少钱?顾客再核对</tspan><tspan x="380.5" dy="13">一下，售货员四人轮流当。小组合作模拟购物</tspan><tspan x="380.5" dy="13">，并填购物单。</tspan></text></g>
<g id="r4c2"><rect x="607" y="1304" width="76" height="22.5"/><text x="612.5" y="1318.6">2、反馈练习。</text></g>
<g id="r4c2a"><rect x="375" y="1236" width="212" height="35.5"/><text x="380.5" y="1250.6">(1)师：在计算这几种商品的总价时，你有比<tspan x="380.5" dy="13">较简便的算法吗?</tspan></text></g>
<g id="r4c2b"><rect x="514" y="1296" width="73" height="22.5"/><text x="519.5" y="1310.6">(2)小组交流。</text></g>
<g id="r4c2c"><rect x="375" y="1338" width="212" height="74.5"/><text x="380.5" y="1352.6">(3)师生小结：在计算小数连加法时，使用加<tspan x="380.5" dy="13">法交换律或者结合律可以使计算简便;在计算</tspan><tspan x="380.5" dy="13">小数连减法时，两个减数如相加可凑整，先把</tspan><tspan x="380.5" dy="13">两个减数相加，再从被减数中减去，也可使计</tspan><tspan x="380.5" dy="13">算简便。</tspan></text></g>
<g id="r4d1"><rect x="470" y="1437" width="213" height="48.5"/><text x="475.5" y="1451.6">师：我们学习了小数加减混合运算，今天让我<tspan x="475.5" dy="13">们当一回家，为家人准备晚餐，选购食品。钱</tspan><tspan x="475.5" dy="13">数在30元以内，你打算选购什么食品?</tspan></text></g>
<g id="r4d2"><rect x="470" y="1509" width="213" height="35.5"/><text x="475.5" y="1523.6">生写出自己的方案并列式计算出共花多少钱?<tspan x="475.5" dy="13">如有剩余，余下多少钱?</tspan></text></g>
<g id="r4e1"><rect x="557" y="1566" width="178" height="22.5"/><text x="562.5" y="1580.6">通过这节课的学习，你们有哪些收获?</text></g>
<g id="r5a"><rect x="774" y="1612" width="51" height="22.5"/><text x="779.5" y="1626.6">购物小票</text></g>
<g id="r5b"><rect x="663" y="1657" width="162" height="22.5"/><text x="668.5" y="1671.6">1.25+2.41=3.66 3.66-1.25=2.41</text></g>
<g id="r5c"><rect x="771" y="1702" width="54" height="22.5"/><text x="776.5" y="1716.6">1.25 3.66</text></g>
<g id="r5c1"><rect x="687" y="1702" width="65" height="22.5"/><text x="692.5" y="1716.6">+2.41 -1.25</text></g>
<g id="r5d"><rect x="771" y="1754" width="54" height="22.5"/><text x="776.5" y="1768.6">3.66 2.41</text></g>
<g id="r5d1"><rect x="538" y="1747" width="214" height="35.5"/><text x="543.5" y="1761.6">计算时只要小数点对齐，其他就和整数加减法<tspan x="543.5" dy="13">一样了</tspan></text></g>
</g>

<g class="b">
<g id="b1"><rect x="854" y="1910" width="50" height="22.5"/><text x="859.5" y="1924.6">一、复习</text></g>
<g id="b2"><rect x="834" y="2626" width="70" height="22.5"/><text x="839.5" y="2640.6">二、目标实施</text></g>
<g id="b1a"><rect x="779" y="1841" width="55" height="22.5"/><text x="784.5" y="1855.6">1、口算：</text></g>
<g id="b1a1"><rect x="546" y="1805" width="213" height="35.5"/><text x="551.5" y="1819.6">54+26= 88-12= 75+15= 100-68= 38+12<tspan x="551.5" dy="13">= 12+45= 33+57=</tspan></text></g>
<g id="b1a2"><rect x="546" y="1863" width="213" height="35.5"/><text x="551.5" y="1877.6">18+35= 66+41= 98-64= 35+25= 69-45=<tspan x="551.5" dy="13">100-25= 36+54=</tspan></text></g>
<g id="b1b"><rect x="789" y="1929" width="45" height="22.5"/><text x="794.5" y="1943.6">2、计算</text></g>
<g id="b1b1"><rect x="556" y="1921" width="214" height="35.5"/><text x="561.5" y="1935.6">235+516= 8695-4687= 561+687= 1357-<tspan x="561.5" dy="13">898</tspan></text></g>
<g id="b1c"><rect x="656" y="1980" width="178" height="22.5"/><text x="661.5" y="1994.6">3、小结笔算整数加减法的计算法则。</text></g>
<g id="b2a"><rect x="601" y="2026" width="214" height="48.5"/><text x="606.5" y="2040.6">1、教师引出课题：三年级时我们学习了小数<tspan x="606.5" dy="13">的初步认识，对小数已经有了初步的认识，今</tspan><tspan x="606.5" dy="13">天这节课我们一起来学习小数的加法和减法。</tspan></text></g>
<g id="b2b"><rect x="687" y="2279" width="128" height="22.5"/><text x="692.5" y="2293.6">2、循序渐进，探究新知：</text></g>
<g id="b2b1"><rect x="495" y="2096" width="173" height="22.5"/><text x="500.5" y="2110.6">1)、联系学生生活实际，创设情境。</text></g>
<g id="b2b2"><rect x="454" y="2141" width="214" height="35.5"/><text x="459.5" y="2155.6">A、学生自己想一想，在生活中我们在哪些地<tspan x="459.5" dy="13">方经常与小数打交道。(抽几名学生回答)</tspan></text></g>
<g id="b2b3"><rect x="454" y="2454" width="214" height="35.5"/><text x="459.5" y="2468.6">B、师出示超市价目表，请一名学生来做"服<tspan x="459.5" dy="13">务员"为大家介绍一下商品价格。</tspan></text></g>
<g id="b2b3a"><rect x="221" y="2199" width="214" height="61.5"/><text x="226.5" y="2213.6">2)、请同学们选择两种自己喜欢的商品写在购<tspan x="226.5" dy="13">物单上，算一算一共要花多少钱?并写出计算</tspan><tspan x="226.5" dy="13">方法，写完以后同桌之间说一说你是怎么做的</tspan><tspan x="226.5" dy="13">?</tspan></text></g>
<g id="b2b3b"><rect x="221" y="2283" width="214" height="35.5"/><text x="226.5" y="2297.6">3)、抽两名学生到讲台上板书他们的购物单，<tspan x="226.5" dy="13">并说一说他们的计算方法。</tspan></text></g>
<g id="b2b3c"><rect x="253" y="2342" width="182" height="22.5"/><text x="258.5" y="2356.6">4)、学生总结小数的加法的计算方法。</text></g>
<g id="b2b3d"><rect x="221" y="2387" width="214" height="48.5"/><text x="226.5" y="2401.6">5)、老师总结小数的加法的计算方法，并板书<tspan x="226.5" dy="13">：小数的加法的计算方法：小数点对齐，相同</tspan><tspan x="226.5" dy="13">数位再相加。</tspan></text></g>
<g id="b2b3e"><rect x="221" y="2459" width="214" height="35.5"/><text x="226.5" y="2473.6">6)比一比：同桌之间互相比较，看看谁用的钱<tspan x="226.5" dy="13">多?多多少?</tspan></text></g>
<g id="b2b3f"><rect x="221" y="2517" width="214" height="35.5"/><text x="226.5" y="2531.6">7)、抽两名学生上台板书自己的计算方法，并<tspan x="226.5" dy="13">讲一讲。</tspan></text></g>
<g id="b2b3g"><rect x="253" y="2574" width="182" height="22.5"/><text x="258.5" y="2588.6">8)、学生总结小数的减法的计算方法。</text></g>
<g id="b2b3h"><rect x="221" y="2620" width="214" height="48.5"/><text x="226.5" y="2634.6">9)、老师总结小数的减法的计算方法，并板书<tspan x="226.5" dy="13">：小数的减法的计算方法：小数点对齐，相同</tspan><tspan x="226.5" dy="13">数位再相减。</tspan></text></g>
<g id="b2b3i"><rect x="221" y="2691" width="214" height="35.5"/><text x="226.5" y="2705.6">10)、学生总结小数加法和减法的计算方法有<tspan x="226.5" dy="13">什么相同点?(都是先要小数点对齐)</tspan></text></g>
<g id="b2c"><rect x="756" y="2792" width="59" height="22.5"/><text x="761.5" y="2806.6">8.课堂练习</text></g>
<g id="b2c1"><rect x="625" y="2792" width="111" height="22.5"/><text x="630.5" y="2806.6">深化练习，巩固新知：</text></g>
<g id="b2c1a"><rect x="393" y="2749" width="213" height="48.5"/><text x="398.5" y="2763.6">"小小采购员"：老师准备用50元班费来布置<tspan x="398.5" dy="13">教室，你们能帮助我想一想该买些什么?算一</tspan><tspan x="398.5" dy="13">算一共要花多少钱?还剩多少钱?</tspan></text></g>
<g id="b2c1b"><rect x="436" y="2821" width="170" height="22.5"/><text x="441.5" y="2835.6">9，布置作业：完成课后联系1、2题</text></g>
<g id="b2d"><rect x="689" y="2911" width="126" height="22.5"/><text x="694.5" y="2925.6">10. 附录(教学资料及资源)</text></g>
<g id="b2d1"><rect x="607" y="2866" width="62" height="22.5"/><text x="612.5" y="2880.6">(1)口算卡片</text></g>
<g id="b2d2"><rect x="567" y="2911" width="102" height="22.5"/><text x="572.5" y="2925.6">(2)、超市购物小票。</text></g>
<g id="b2d3"><rect x="509" y="2956" width="160" height="22.5"/><text x="514.5" y="2970.6">(3)、一些物品如文具类(作为商品)</text></g>
<g id="b2e"><rect x="742" y="3213" width="73" height="22.5"/><text x="747.5" y="3227.6">11、自我问答</text></g>
<g id="b2e1"><rect x="509" y="3193" width="213" height="61.5"/><text x="514.5" y="3207.6">小数加减法的教学立足于促进学生的发展，紧<tspan x="514.5" dy="13">密联系生活实际创设情境，让学生通过自己探</tspan><tspan x="514.5" dy="13">索、合作交流获得小数加减法的笔算方法。在</tspan><tspan x="514.5" dy="13">教学设计上主要体现以下三点：</tspan></text></g>
<g id="b2e1a"><rect x="307" y="3060" width="183" height="22.5"/><text x="312.5" y="3074.6">第一，紧密联系生活，创设问题情境。</text></g>
<g id="b2e1a1"><rect x="75" y="3001" width="213" height="139.5"/><text x="80.5" y="3015.6">创设学生熟悉的超市购物设置情境，充分调动<tspan x="80.5" dy="13">学生的学习情绪与兴趣。让学生从超市购物入</tspan><tspan x="80.5" dy="13">手，提出购买物品以激发学生学习小数加减法</tspan><tspan x="80.5" dy="13">的兴趣，顺理成章地引入小数加减法，使学生</tspan><tspan x="80.5" dy="13">经历提出和解决问题的活动，主动探索小数加</tspan><tspan x="80.5" dy="13">减法的计算方法。在巩固提高环节设置买教室</tspan><tspan x="80.5" dy="13">用品的生活情境。体现数学来源于生活，服</tspan><tspan x="80.5" dy="13">务于生活的基本理念。在这样的背景下学习，</tspan><tspan x="80.5" dy="13">学生能体会出学习小数加减法计算的意义，</tspan><tspan x="80.5" dy="13">和价值。</tspan></text></g>
<g id="b2e1b"><rect x="318" y="3223" width="172" height="22.5"/><text x="323.5" y="3237.6">第二，教师大胆放手，学生自主探索</text></g>
<g id="b2e1b1"><rect x="85" y="3164" width="213" height="139.5"/><text x="90.5" y="3178.6">学生已有整数加减法计算的基础，教学中<tspan x="90.5" dy="13">充分利用这一知识经验，由学生自己收集有用</tspan><tspan x="90.5" dy="13">的信息，提出问题，并解决问题。在这一系列学</tspan><tspan x="90.5" dy="13">习活动中，教师不给学生任何提示，促使学生</tspan><tspan x="90.5" dy="13">利用已有经验去解决问题，尝试小数加减法的</tspan><tspan x="90.5" dy="13">计算方法，在探索中感悟小数加减法的计算方</tspan><tspan x="90.5" dy="13">法，通过师生、生生间的交流活动将初</tspan><tspan x="90.5" dy="13">步感知提升到新的高度总结出小数加减法笔</tspan><tspan x="90.5" dy="13">算方法，进一步理解列竖式时小数点对</tspan><tspan x="90.5" dy="13">齐的道理。</tspan></text></g>
<g id="b2e1c"><rect x="277" y="3359" width="213" height="35.5"/><text x="282.5" y="3373.6">第三，重视学生发现问题，提出问题能力的培<tspan x="282.5" dy="13">养。</tspan></text></g>
<g id="b2e1c1"><rect x="44" y="3326" width="213" height="100.5"/><text x="49.5" y="3340.6">提高学生发现问题、提出问题能力的前提是，<tspan x="49.5" dy="13">使学生逐渐养成主动发现问题、提出问题的良</tspan><tspan x="49.5" dy="13">好习惯。教学中创设了超市购物的情境，为学</tspan><tspan x="49.5" dy="13">生提供各种信息，给学生提出问题的空间。首</tspan><tspan x="49.5" dy="13">先根据情境，学生发现并提出数学问题，最</tspan><tspan x="49.5" dy="13">后解决的这些问题是学生提出的，所以学生</tspan><tspan x="49.5" dy="13">解决问题的动力也就更大。</tspan></text></g>
</g>

<g class="c">
<g id="c1"><rect x="774" y="3612" width="130" height="22.5"/><text x="779.5" y="3626.6">一、复习铺垫，引入新课。</text></g>
<g id="c2"><rect x="834" y="4427" width="70" height="22.5"/><text x="839.5" y="4441.6">二、目标实施</text></g>
<g id="c1a"><rect x="712" y="3451" width="41" height="22.5"/><text x="717.5" y="3465.6">1.口算.</text></g>
<g id="c1b"><rect x="540" y="3495" width="213" height="35.5"/><text x="545.5" y="3509.6">0.3+0.4= 0.2+0.6= 1.4+1.5= 0.33+1.25=<tspan x="545.5" dy="13">0.9- 0.5=</tspan></text></g>
<g id="c1c"><rect x="540" y="3553" width="213" height="35.5"/><text x="545.5" y="3567.6">4.8+2.2= 3.5-2.1= 5.5+4= 19.5-0.5= 7.2+<tspan x="545.5" dy="13">1.6=</tspan></text></g>
<g id="c1c1"><rect x="379" y="3561" width="141" height="22.5"/><text x="384.5" y="3575.6">学生独立计算，集体对答案。</text></g>
<g id="c1d"><rect x="540" y="3612" width="213" height="35.5"/><text x="545.5" y="3626.6">2.竖式板算：(每组叫一名同学上黑板算，其<tspan x="545.5" dy="13">他同学在练习本上计算)</tspan></text></g>
<g id="c1e"><rect x="549" y="3696" width="204" height="22.5"/><text x="554.5" y="3710.6">4.89-2.64 3.61+1.37 7.75-6.35 2.82+3.17</text></g>
<g id="c1e1"><rect x="341" y="3671" width="187" height="22.5"/><text x="346.5" y="3685.6">点拨：计算小数加、减法时要注意什么?</text></g>
<g id="c1e2"><rect x="316" y="3715" width="212" height="35.5"/><text x="321.5" y="3729.6">(强调：计算小数加减法时，要小数点对齐也<tspan x="321.5" dy="13">就是相同数位对齐，从低位加或减起。)</tspan></text></g>
<g id="c1f"><rect x="563" y="3773" width="190" height="22.5"/><text x="568.5" y="3787.6">3、揭示：今天我们继续学习的小数减法.</text></g>
<g id="c2a"><rect x="601" y="3819" width="214" height="74.5"/><text x="606.5" y="3833.6">1、创设情境导入： 同学们，你们是祖国的未<tspan x="606.5" dy="13">来，是祖国的希望，为了促进你们健康成长，</tspan><tspan x="606.5" dy="13">每学期我们都进行体检，其中有一项是量体重</tspan><tspan x="606.5" dy="13">。你知道你的体重是多少吗?今天希望小学的</tspan><tspan x="606.5" dy="13">孩子们也在量体重，想不想去看一看?</tspan></text></g>
<g id="c2b"><rect x="601" y="3917" width="214" height="48.5"/><text x="606.5" y="3931.6">2、出示情境图：你获得了哪些信息?指名汇<tspan x="606.5" dy="13">报：(笑笑体重38千克、淘气体重45.2千克、</tspan><tspan x="606.5" dy="13">丁丁体重33.4千克。)教师板书</tspan></text></g>
<g id="c2c"><rect x="601" y="3988" width="214" height="87.5"/><text x="606.5" y="4002.6">3、根据情境图提供的信息，你能提出哪些数<tspan x="606.5" dy="13">学问题?(1、淘气比丁丁重多少千克? 2、淘气</tspan><tspan x="606.5" dy="13">比笑笑重多少千克? 3、丁丁比笑笑轻多少千</tspan><tspan x="606.5" dy="13">克? 4、丁丁比淘气轻多少千克? 5、笑笑比淘</tspan><tspan x="606.5" dy="13">气轻多少千克? 6、笑笑比丁丁重多少千克?7</tspan><tspan x="606.5" dy="13">、淘气和丁丁一贯共重多少千克?。。。)</tspan></text></g>
<g id="c2c1"><rect x="425" y="4020" width="157" height="22.5"/><text x="430.5" y="4034.6">下面我们试着解决两个问题好吗?</text></g>
<g id="c2d"><rect x="633" y="4235" width="182" height="22.5"/><text x="638.5" y="4249.6">4、课件出示：淘气比丁丁重多少千克?</text></g>
<g id="c2d1"><rect x="419" y="4098" width="192" height="22.5"/><text x="424.5" y="4112.6">指名列式：45.2-33.4= 为什么这样列式?</text></g>
<g id="c2d2"><rect x="515" y="4144" width="96" height="22.5"/><text x="520.5" y="4158.6">(1) 自主尝试计算：</text></g>
<g id="c2d3"><rect x="536" y="4195" width="75" height="22.5"/><text x="541.5" y="4209.6">(2) 交流汇报：</text></g>
<g id="c2d3a"><rect x="303" y="4189" width="213" height="35.5"/><text x="308.5" y="4203.6">启发学生思考：根据45.2-33.4这个算式，想<tspan x="308.5" dy="13">：计算小数减法时要注意什么?</tspan></text></g>
<g id="c2d4"><rect x="498" y="4260" width="113" height="22.5"/><text x="503.5" y="4274.6">(3)交流后师生共同小结</text></g>
<g id="c2d4a"><rect x="265" y="4247" width="213" height="48.5"/><text x="270.5" y="4261.6">计算小数减法时，小数点要对齐即相同数位要<tspan x="270.5" dy="13">对齐;十分位不够减要从个位退1作10，在十分</tspan><tspan x="270.5" dy="13">位上加10再减.</tspan></text></g>
<g id="c2d5"><rect x="513" y="4317" width="98" height="22.5"/><text x="518.5" y="4331.6">(4)计算：23.5-16.8</text></g>
<g id="c2d6"><rect x="447" y="4369" width="164" height="22.5"/><text x="452.5" y="4383.6">(5)讨论归纳小数减法的计算方法：</text></g>
<g id="c2d6a"><rect x="214" y="4363" width="213" height="35.5"/><text x="219.5" y="4377.6">①相同数位对齐;②从低位减起;③十分位不够<tspan x="219.5" dy="13">减向个位借1，然后再减.</tspan></text></g>
<g id="c2e"><rect x="637" y="4518" width="178" height="22.5"/><text x="642.5" y="4532.6">5. 课件出示：丁丁比笑笑轻多少千克?</text></g>
<g id="c2e1"><rect x="436" y="4421" width="180" height="22.5"/><text x="441.5" y="4435.6">(1)自主列式说一说为什么这样列式?。</text></g>
<g id="c2e2"><rect x="533" y="4467" width="83" height="22.5"/><text x="538.5" y="4481.6">(2)独立尝试计算</text></g>
<g id="c2e3"><rect x="543" y="4511" width="73" height="22.5"/><text x="548.5" y="4525.6">(3)小组内交流</text></g>
<g id="c2e4"><rect x="564" y="4557" width="52" height="22.5"/><text x="569.5" y="4571.6">(4)汇报：</text></g>
<g id="c2e5"><rect x="404" y="4601" width="212" height="48.5"/><text x="409.5" y="4615.6">(5)点拨：把38写成38.0你知道是根据什么吗?<tspan x="409.5" dy="13">(这是根据小数的基本性质，即小数的末尾添</tspan><tspan x="409.5" dy="13">上"0"或去掉"0"，小数的大小不变。)</tspan></text></g>
<g id="c2f"><rect x="601" y="4673" width="214" height="48.5"/><text x="606.5" y="4687.6">6、课件出示：小数的末尾添上"0"或去掉"0"<tspan x="606.5" dy="13">，小数的大小不变。这就是小数的基本性质。</tspan><tspan x="606.5" dy="13">练习说一说。</tspan></text></g>
<g id="c2g"><rect x="748" y="4744" width="67" height="22.5"/><text x="753.5" y="4758.6">7、尝试做：</text></g>
<g id="c2h"><rect x="700" y="4835" width="115" height="22.5"/><text x="705.5" y="4849.6">1.25+6.05= 78.3-6.9=</text></g>
<g id="c2h1"><rect x="467" y="4797" width="213" height="35.5"/><text x="472.5" y="4811.6">(1)观察第一题的计算结果你发现了什么?(在<tspan x="472.5" dy="13">小数的末尾添有0。)</tspan></text></g>
<g id="c2h1a"><rect x="234" y="4789" width="214" height="48.5"/><text x="239.5" y="4803.6">我们在计算小数加减法时计算结果如果在小数<tspan x="239.5" dy="13">的末尾有0可以根据小数的基本性质把0去掉</tspan><tspan x="239.5" dy="13">，小数的大小不变。)</tspan></text></g>
<g id="c2h2"><rect x="467" y="4860" width="213" height="35.5"/><text x="472.5" y="4874.6">(2)强调：哪一位不够减要从本位退1作10，<tspan x="472.5" dy="13">在前一位加10再减.</tspan></text></g>
<g id="c2i"><rect x="601" y="5003" width="214" height="35.5"/><text x="606.5" y="5017.6">8、小结：今天通过量体重我们学习了什么?(<tspan x="606.5" dy="13">小数加减法的进位加、退位减)</tspan></text></g>
<g id="c2i1"><rect x="368" y="4918" width="214" height="35.5"/><text x="373.5" y="4932.6">讨论交流：计算这样的小数加、减法要注意什<tspan x="373.5" dy="13">么?</tspan></text></g>
<g id="c2i2"><rect x="368" y="4977" width="214" height="35.5"/><text x="373.5" y="4991.6">总结：(1)小数加、减法要相同数位对齐，从<tspan x="373.5" dy="13">低位加起或减起;</tspan></text></g>
<g id="c2i3"><rect x="368" y="5036" width="214" height="35.5"/><text x="373.5" y="5050.6">(2)哪一位相加满十就向前一位进1;哪一位不<tspan x="373.5" dy="13">够减就要向前一位借1;</tspan></text></g>
<g id="c2i4"><rect x="465" y="5093" width="117" height="22.5"/><text x="470.5" y="5107.6">(3)确定好小数点的位置.</text></g>
</g>
</g>
</svg>
